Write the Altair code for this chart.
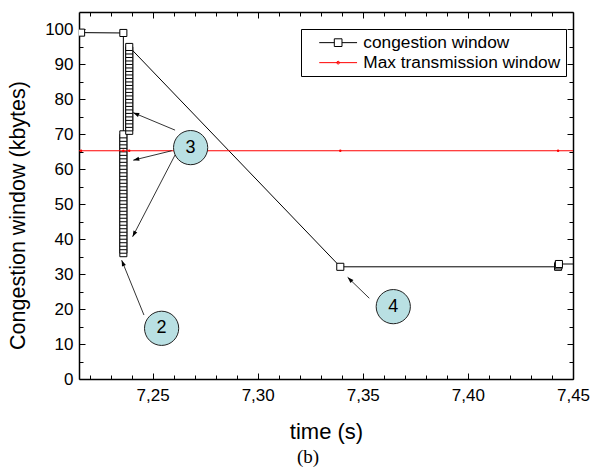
import math
import altair as alt
import pandas as pd

FONT = "Liberation Sans"

# ---------------- data ----------------
cw_time = [7.2160, 7.2361,
           7.2361, 7.2361, 7.2361, 7.2361, 7.2361, 7.2361, 7.2361, 7.2361, 7.2361, 7.2361,
           7.2361, 7.2361, 7.2361, 7.2361, 7.2361, 7.2361, 7.2361, 7.2361, 7.2361, 7.2361,
           7.2361, 7.2361, 7.2361, 7.2361, 7.2361, 7.2361, 7.2361, 7.2361, 7.2361, 7.2361,
           7.2361, 7.2361, 7.2361, 7.2361, 7.2361,
           7.2389, 7.2389, 7.2389, 7.2389, 7.2389, 7.2389, 7.2389, 7.2389, 7.2389, 7.2389,
           7.2389, 7.2389, 7.2389, 7.2389, 7.2389, 7.2389, 7.2389, 7.2389, 7.2389, 7.2389,
           7.2389, 7.2389, 7.2389, 7.2389, 7.2389,
           7.3393, 7.4429, 7.4431, 7.4433, 7.4600]
cw_value = [99.1, 99.0,
            36, 37, 38, 39, 40, 41, 42, 43, 44, 45,
            46, 47, 48, 49, 50, 51, 52, 53, 54, 55,
            56, 57, 58, 59, 60, 61, 62, 63, 64, 65,
            66, 67, 68, 69, 70,
            71, 72, 73, 74, 75, 76, 77, 78, 79, 80,
            81, 82, 83, 84, 85, 86, 87, 88, 89, 90,
            91, 92, 93, 94, 95,
            32.1, 32.1, 32.5, 32.9, 32.9]

mtw_time = [7.2000, 7.2160, 7.2361, 7.2389, 7.3393, 7.4429, 7.4600]
mtw_value = [65.3, 65.3, 65.3, 65.3, 65.3, 65.3, 65.3]

series_names = ["congestion window", "Max transmission window"]

# numbered callouts
callout_label = ["3", "2", "4"]
callout_time = [7.2681, 7.2543, 7.3645]
callout_value = [66.2, 14.5, 20.7]

# arrows (tail -> head)
arrow_t0 = [7.2607, 7.2591, 7.2607, 7.2459, 7.3531]
arrow_v0 = [71.2, 65.3, 64.1, 18.3, 23.1]
arrow_t1 = [7.2408, 7.2408, 7.2405, 7.2353, 7.3428]
arrow_v1 = [76.2, 62.6, 40.7, 34.0, 29.1]

x_major = [7.25, 7.30, 7.35, 7.40, 7.45]
x_ticks = [7.22, 7.23, 7.24, 7.25, 7.26, 7.27, 7.28, 7.29, 7.30, 7.31, 7.32, 7.33,
           7.34, 7.35, 7.36, 7.37, 7.38, 7.39, 7.40, 7.41, 7.42, 7.43, 7.44, 7.45]
y_major = [0, 10, 20, 30, 40, 50, 60, 70, 80, 90, 100]
y_ticks = [0, 5, 10, 15, 20, 25, 30, 35, 40, 45, 50, 55, 60, 65, 70, 75, 80, 85,
           90, 95, 100]

X_DOMAIN = [7.215, 7.45]
Y_DOMAIN = [0, 105]
W, H = 494, 367

# ---------------- tables ----------------
cw = pd.DataFrame({"t": cw_time, "v": cw_value, "idx": list(range(len(cw_time)))})
mtw = pd.DataFrame({"t": mtw_time, "v": mtw_value, "idx": list(range(len(mtw_time)))})
call = pd.DataFrame({"t": callout_time, "v": callout_value, "label": callout_label})

sx = W / (X_DOMAIN[1] - X_DOMAIN[0])
sy = H / (Y_DOMAIN[1] - Y_DOMAIN[0])
angles = []
for t0, v0, t1, v1 in zip(arrow_t0, arrow_v0, arrow_t1, arrow_v1):
    dx = (t1 - t0) * sx
    dy = -(v1 - v0) * sy
    angles.append(math.degrees(math.atan2(dx, -dy)) % 360)
arr = pd.DataFrame({"t0": arrow_t0, "v0": arrow_v0, "t1": arrow_t1, "v1": arrow_v1,
                    "angle": angles})
leg = pd.DataFrame({"series": series_names})

xs = alt.Scale(domain=X_DOMAIN, nice=False, zero=False)
ys = alt.Scale(domain=Y_DOMAIN, nice=False, zero=False)

x_major_test = "abs(datum.value*20 - round(datum.value*20)) < 0.001"
y_major_test = "datum.value % 10 == 0"

def tsize(test):
    return {"condition": {"test": test, "value": 6}, "value": 4}

ax_x_labels = alt.Axis(values=x_major, labelExpr="replace(format(datum.value, '.2f'), '.', ',')",
                       ticks=False, grid=False, domain=True, domainColor="black",
                       domainWidth=1.5, labelFont=FONT, labelFontSize=17, labelColor="black",
                       labelPadding=8, labelFlush=False, labelOverlap=False,
                       title="time (s)", titleFont=FONT, titleFontSize=22,
                       titleFontWeight="normal", titleColor="black", titlePadding=18)
ax_y_labels = alt.Axis(values=y_major, ticks=False, grid=False, domain=True,
                       domainColor="black", domainWidth=1.5, labelFont=FONT,
                       labelFontSize=17, labelColor="black", labelPadding=6,
                       title="Congestion window (kbytes)", titleFont=FONT,
                       titleFontSize=21.5, titleFontWeight="normal", titleColor="black",
                       titlePadding=15, titleY=203)
# inward tick axes: placed on the opposite side of their orientation with a negative offset
ax_x_bottom_ticks = alt.Axis(orient="top", offset=-H, values=x_ticks, labels=False,
                             domain=False, grid=False, tickColor="black", tickWidth=1,
                             tickSize=tsize(x_major_test), title=None)
ax_x_top_ticks = alt.Axis(orient="bottom", offset=-H, values=x_ticks, labels=False,
                          domain=True, domainColor="black", domainWidth=1.5, grid=False,
                          tickColor="black", tickWidth=1, tickSize=tsize(x_major_test),
                          title=None)
ax_y_left_ticks = alt.Axis(orient="right", offset=-W, values=y_ticks, labels=False,
                           domain=False, grid=False, tickColor="black", tickWidth=1,
                           tickSize=tsize(y_major_test), title=None)
ax_y_right_ticks = alt.Axis(orient="left", offset=-W, values=y_ticks, labels=False,
                            domain=True, domainColor="black", domainWidth=1.5, grid=False,
                            tickColor="black", tickWidth=1, tickSize=tsize(y_major_test),
                            title=None)

cw_line = alt.Chart(cw).mark_line(color="black", strokeWidth=1, clip=True).encode(
    x=alt.X("t:Q", scale=xs, axis=ax_x_labels),
    y=alt.Y("v:Q", scale=ys, axis=ax_y_labels),
    order="idx:Q",
)
cw_pts = alt.Chart(cw).mark_point(shape="square", size=50, filled=True, fill="white",
                                  stroke="black", strokeWidth=1, opacity=1, clip=True).encode(
    x=alt.X("t:Q", scale=xs, axis=ax_x_bottom_ticks),
    y=alt.Y("v:Q", scale=ys, axis=ax_y_left_ticks),
)
mtw_line = alt.Chart(mtw).mark_line(color="#ff0000", strokeWidth=1.2, clip=True).encode(
    x=alt.X("t:Q", scale=xs, axis=ax_x_top_ticks),
    y=alt.Y("v:Q", scale=ys, axis=ax_y_right_ticks),
    order="idx:Q",
)
mtw_pts = alt.Chart(mtw).mark_point(shape="circle", size=6, filled=True, color="#ff0000",
                                    opacity=1, clip=True).encode(
    x=alt.X("t:Q", scale=xs, axis=None),
    y=alt.Y("v:Q", scale=ys, axis=None),
)
arrows = alt.Chart(arr).mark_rule(color="black", strokeWidth=0.8).encode(
    x=alt.X("t0:Q", scale=xs, axis=None), x2="t1:Q",
    y=alt.Y("v0:Q", scale=ys, axis=None), y2="v1:Q",
)
heads = alt.Chart(arr).mark_point(shape="M0,0L-0.35,1L0.35,1Z", size=144, filled=True,
                                  color="black", opacity=1, strokeWidth=0).encode(
    x=alt.X("t1:Q", scale=xs, axis=None),
    y=alt.Y("v1:Q", scale=ys, axis=None),
    angle=alt.Angle("angle:Q", scale=None),
)
circles = alt.Chart(call).mark_circle(size=1170, color="#b9e0e3", stroke="#222222",
                                      strokeWidth=1, opacity=1).encode(
    x=alt.X("t:Q", scale=xs, axis=None),
    y=alt.Y("v:Q", scale=ys, axis=None),
)
circle_text = alt.Chart(call).mark_text(font=FONT, fontSize=18, color="black",
                                        align="center", baseline="middle").encode(
    x=alt.X("t:Q", scale=xs, axis=None),
    y=alt.Y("v:Q", scale=ys, axis=None),
    text="label:N",
)

PATH_CW = "M-2.7,0L-0.55,0M0.55,0L2.7,0M-0.55,-0.55L0.55,-0.55L0.55,0.55L-0.55,0.55Z"
PATH_MTW = "M-2.7,0L2.7,0M-0.2,0A0.2,0.2,0,1,0,0.2,0A0.2,0.2,0,1,0,-0.2,0Z"

LEG = alt.Legend(title=None, orient="none", legendX=222, legendY=17, direction="vertical",
                 padding=5, rowPadding=2, strokeColor="black", fillColor="white",
                 cornerRadius=0, symbolSize=196, symbolStrokeWidth=1,
                 symbolFillColor="white", symbolOpacity=1, symbolOffset=23.5,
                 labelOffset=16.5, labelFont=FONT, labelFontSize=17.3, labelColor="black",
                 labelLimit=400)

legend_layer = alt.Chart(leg).mark_point(opacity=0).encode(
    color=alt.Color("series:N", scale=alt.Scale(domain=series_names, range=["black", "#ff0000"]),
                    legend=LEG),
    shape=alt.Shape("series:N", scale=alt.Scale(domain=series_names, range=[PATH_CW, PATH_MTW]),
                    legend=LEG),
)

chart = alt.layer(
    cw_line, cw_pts, mtw_line, mtw_pts, arrows, heads, circles, circle_text, legend_layer
).resolve_axis(
    x="independent", y="independent"
).properties(
    width=W, height=H,
    padding={"left": 79, "top": 12, "right": 18, "bottom": 92},
    autosize=alt.AutoSizeParams(type="none"),
    title=alt.TitleParams(text="(b)", orient="bottom", font="Liberation Serif", fontSize=19,
                          fontWeight="normal", color="black", anchor="middle", dx=-18,
                          offset=6),
    background="white",
).configure_view(stroke=None)

chart.save("out.html", embed_options={"renderer": "svg", "actions": False})
